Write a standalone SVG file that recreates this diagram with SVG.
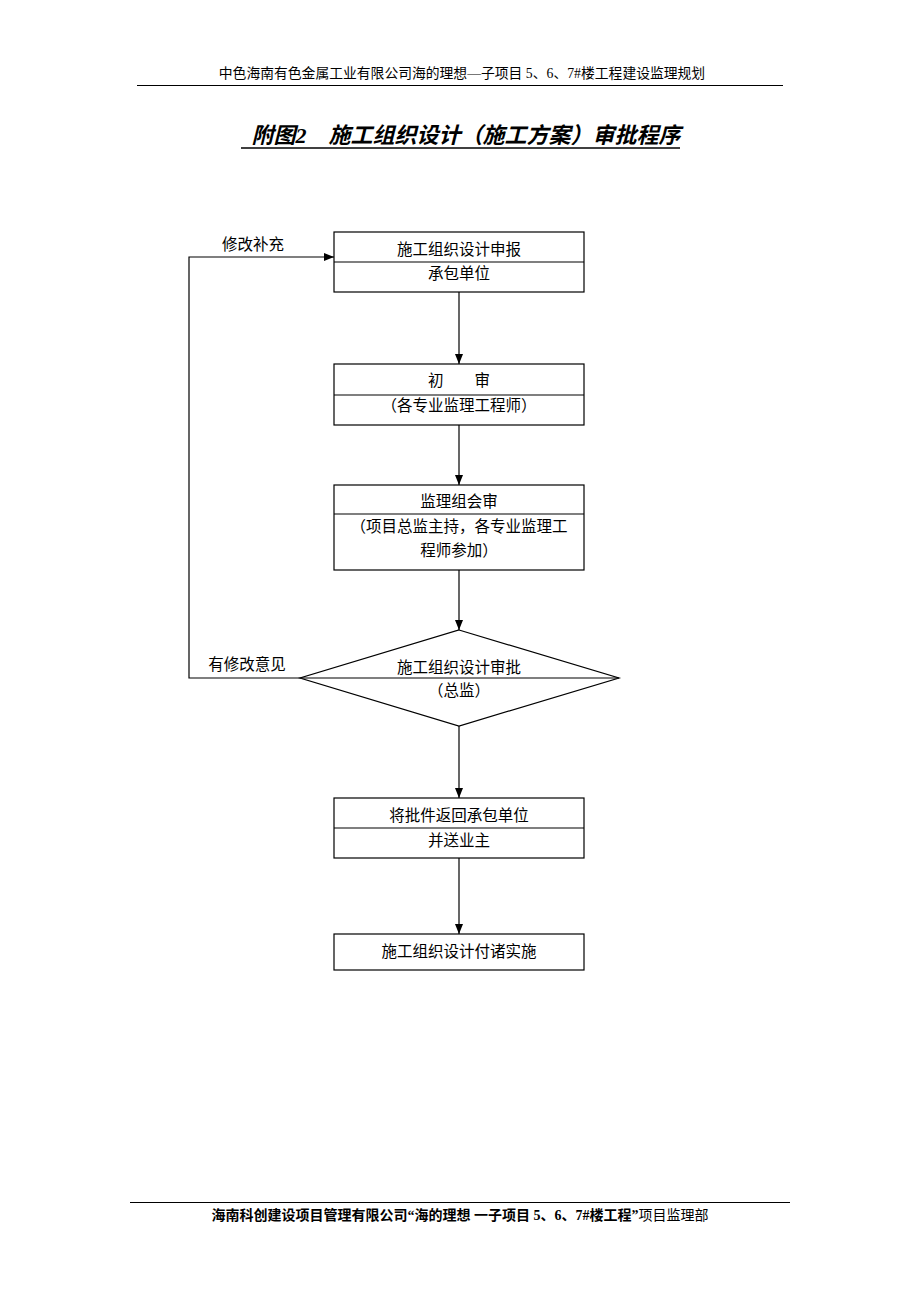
<svg xmlns="http://www.w3.org/2000/svg" width="920" height="1302" viewBox="0 0 920 1302">
<style>
text{font-family:"Liberation Serif","Noto Sans CJK SC",serif;fill:#000}
.t{font-size:15.5px;text-anchor:middle}
.box{fill:#fff;stroke:#000;stroke-width:1.2}
.ln{fill:none;stroke:#000;stroke-width:1.2}
</style>
<defs>
<marker id="ah" viewBox="0 0 10 10" refX="10" refY="5" markerWidth="10" markerHeight="10" markerUnits="userSpaceOnUse" orient="auto">
<path d="M0,1 L10,5 L0,9 z" fill="#000"/>
</marker>
</defs>
<rect width="920" height="1302" fill="#fff"/>
<g id="header">
<text x="462" y="78" style="font-size:13.8px;text-anchor:middle">中色海南有色金属工业有限公司海的理想—子项目 5、6、7#楼工程建设监理规划</text>
<line x1="137" y1="85.5" x2="783" y2="85.5" stroke="#000" stroke-width="1"/>
</g>
<g id="title">
<text x="466" y="143" style="font-size:22px;font-weight:bold;font-style:italic;text-anchor:middle">附图2　施工组织设计（施工方案）审批程序</text>
<line x1="241" y1="148" x2="680" y2="148" stroke="#000" stroke-width="1.6"/>
</g>
<g id="connectors">
<line class="ln" x1="459" y1="292" x2="459" y2="364" marker-end="url(#ah)"/>
<line class="ln" x1="459" y1="425" x2="459" y2="485" marker-end="url(#ah)"/>
<line class="ln" x1="459" y1="570" x2="459" y2="630" marker-end="url(#ah)"/>
<line class="ln" x1="459" y1="726" x2="459" y2="798" marker-end="url(#ah)"/>
<line class="ln" x1="459" y1="858" x2="459" y2="934" marker-end="url(#ah)"/>
<polyline class="ln" points="300,678 189,678 189,257 334,257" marker-end="url(#ah)"/>
<text x="253" y="250" class="t">修改补充</text>
<text x="247" y="670" class="t">有修改意见</text>
</g>
<g id="n1">
<rect class="box" x="334" y="232" width="250" height="60"/>
<line class="ln" x1="334" y1="262" x2="584" y2="262"/>
<text x="459" y="255" class="t">施工组织设计申报</text>
<text x="459" y="279" class="t">承包单位</text>
</g>
<g id="n2">
<rect class="box" x="334" y="364" width="250" height="61"/>
<line class="ln" x1="334" y1="395" x2="584" y2="395"/>
<text x="459" y="386" class="t">初　　审</text>
<text x="459" y="411" class="t">（各专业监理工程师）</text>
</g>
<g id="n3">
<rect class="box" x="334" y="485" width="250" height="85"/>
<line class="ln" x1="334" y1="514" x2="584" y2="514"/>
<text x="459" y="507" class="t">监理组会审</text>
<text x="459" y="532" class="t">（项目总监主持，各专业监理工</text>
<text x="459" y="556" class="t">程师参加）</text>
</g>
<g id="n4">
<polygon class="box" points="459,630 619,678 459,726 300,678"/>
<line class="ln" x1="300" y1="678" x2="619" y2="678"/>
<text x="459" y="673" class="t">施工组织设计审批</text>
<text x="459" y="696" class="t">（总监）</text>
</g>
<g id="n5">
<rect class="box" x="334" y="798" width="250" height="60"/>
<line class="ln" x1="334" y1="828" x2="584" y2="828"/>
<text x="459" y="821" class="t">将批件返回承包单位</text>
<text x="459" y="846" class="t">并送业主</text>
</g>
<g id="n6">
<rect class="box" x="334" y="934" width="250" height="36"/>
<text x="459" y="957" class="t">施工组织设计付诸实施</text>
</g>
<g id="footer">
<line x1="130" y1="1202.5" x2="790" y2="1202.5" stroke="#000" stroke-width="1"/>
<text x="460" y="1220" style="font-size:14px;text-anchor:middle"><tspan font-weight="bold">海南科创建设项目管理有限公司“海的理想 一子项目 5、6、7#楼工程”</tspan>项目监理部</text>
</g>
</svg>
